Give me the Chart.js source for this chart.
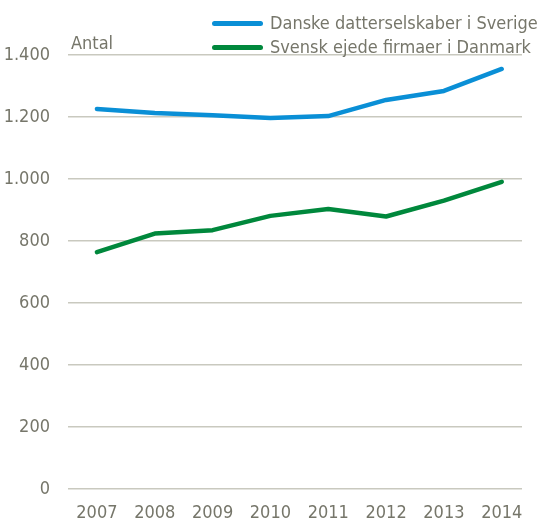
<!DOCTYPE html>
<html>
<head>
<meta charset="utf-8">
<script src="https://cdn.jsdelivr.net/npm/chart.js@4"></script>
<style>
  body { margin: 0; background: #fff; }
  #wrap { position: relative; width: 540px; height: 522px; }
  #legend { position: absolute; left: 212px; top: 11px; font-family: "Liberation Sans Narrow", "DejaVu Sans Condensed", sans-serif; font-size: 18px; color: #76766a; }
  .item { height: 24px; line-height: 24px; white-space: nowrap; }
  .swatch { display: inline-block; width: 51px; height: 5px; border-radius: 2.5px; vertical-align: middle; margin-right: 7px; position: relative; top: -1px; }
</style>
</head>
<body>
<div id="wrap">
  <canvas id="chart" width="540" height="522"></canvas>
  <div id="legend"></div>
</div>
<script>
var years = [2007, 2008, 2009, 2010, 2011, 2012, 2013, 2014];
var danishInSweden = [1226, 1213, 1206, 1197, 1203, 1255, 1284, 1355];
var swedishInDenmark = [764, 824, 835, 881, 903, 879, 930, 991];
var seriesNames = ["Danske datterselskaber i Sverige", "Svensk ejede firmaer i Danmark"];
var yTicks = [0, 200, 400, 600, 800, 1000, 1200, 1400];
var yTitle = "Antal";

var FONT = '"Liberation Sans Narrow", "DejaVu Sans Condensed", sans-serif';
var TEXT = "#76766a";
var colors = ["#0a8fd6", "#00883c"];

function toPoints(values) {
    return years.map(function (y, i) { return { x: y, y: values[i] }; });
}

var antalPlugin = {
    id: 'antal',
    afterDraw: function (chart) {
        var ctx = chart.ctx;
        ctx.save();
        ctx.font = '18px ' + FONT;
        ctx.fillStyle = TEXT;
        ctx.textBaseline = 'bottom';
        ctx.fillText(yTitle, chart.chartArea.left + 3, chart.chartArea.top - 2);
        ctx.restore();
    }
};

var context = document.getElementById("chart").getContext('2d');
var myChart = new Chart(context, {
    type: 'line',
    data: {
        datasets: [
            { label: seriesNames[0], data: toPoints(danishInSweden), borderColor: colors[0], backgroundColor: colors[0] },
            { label: seriesNames[1], data: toPoints(swedishInDenmark), borderColor: colors[1], backgroundColor: colors[1] }
        ]
    },
    options: {
        responsive: false,
        animation: false,
        layout: { padding: { top: 55, right: 18, bottom: 0, left: 0 } },
        elements: {
            line: { borderWidth: 4.5, tension: 0, borderCapStyle: 'round', borderJoinStyle: 'round' },
            point: { radius: 0 }
        },
        plugins: {
            legend: { display: false },
            tooltip: { enabled: false }
        },
        scales: {
            x: {
                type: 'linear',
                min: 2006.5,
                max: 2014.35,
                afterBuildTicks: function (scale) {
                    scale.ticks = years.map(function (y) { return { value: y }; });
                },
                afterFit: function (scale) { scale.height = 33; },
                grid: { display: false, drawTicks: false },
                border: { display: false },
                ticks: {
                    color: TEXT,
                    font: { family: FONT, size: 18, lineHeight: 1 },
                    padding: 15,
                    maxRotation: 0,
                    callback: function (v) { return String(v); }
                }
            },
            y: {
                min: 0,
                max: 1400,
                afterBuildTicks: function (scale) {
                    scale.ticks = yTicks.map(function (v) { return { value: v }; });
                },
                afterFit: function (scale) { scale.width = 68; },
                grid: { color: "#c9c9bf", lineWidth: 1.5, drawTicks: false },
                border: { display: false },
                ticks: {
                    color: TEXT,
                    font: { family: FONT, size: 18 },
                    padding: 18,
                    callback: function (v) { return v.toLocaleString('de-DE'); }
                }
            }
        }
    },
    plugins: [antalPlugin]
});

var legend = document.getElementById("legend");
myChart.data.datasets.forEach(function (ds) {
    var row = document.createElement("div");
    row.className = "item";
    var sw = document.createElement("span");
    sw.className = "swatch";
    sw.style.background = ds.borderColor;
    row.appendChild(sw);
    row.appendChild(document.createTextNode(ds.label));
    legend.appendChild(row);
});
</script>
</body>
</html>
